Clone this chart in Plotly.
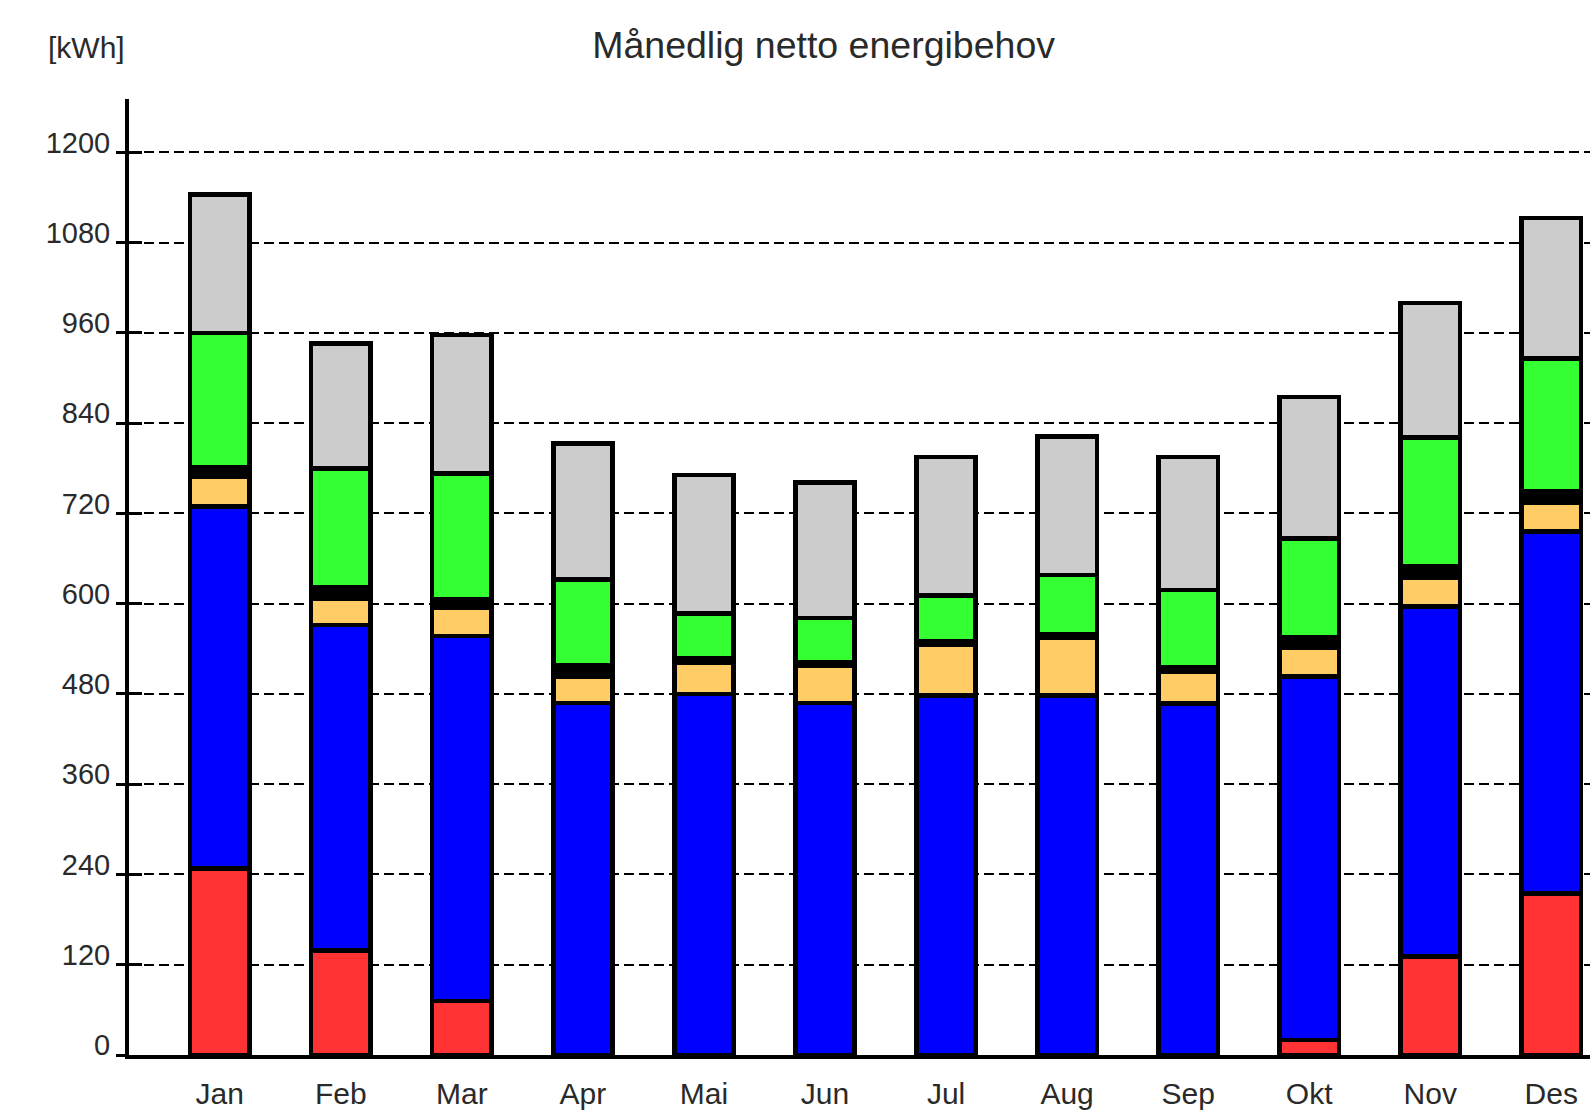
import plotly.graph_objects as go

months = ["Jan", "Feb", "Mar", "Apr", "Mai", "Jun", "Jul", "Aug", "Sep", "Okt", "Nov", "Des"]

romoppvarming = [248, 139, 72, 0, 0, 0, 0, 0, 0, 20, 131, 215]
belysning_utstyr = [481, 433, 485, 468, 480, 468, 478, 478, 467, 483, 465, 481]
varmtvann = [40, 35, 37, 35, 41, 50, 67, 77, 43, 38, 38, 38]
vifter_pumper = [12, 15, 12, 15, 7, 4, 5, 5, 5, 15, 16, 15]
ventilasjonsvarme = [179, 158, 167, 114, 59, 59, 61, 78, 103, 131, 171, 177]
kjoling = [184, 166, 184, 181, 184, 180, 184, 184, 177, 188, 179, 187]

y_ticks = [0, 120, 240, 360, 480, 600, 720, 840, 960, 1080, 1200]

series = [
    ("Romoppvarming", romoppvarming, "#FF3333"),
    ("Belysning og utstyr", belysning_utstyr, "#0000FF"),
    ("Varmtvann", varmtvann, "#FFCC66"),
    ("Vifter og pumper", vifter_pumper, "#000000"),
    ("Ventilasjonsvarme", ventilasjonsvarme, "#33FF33"),
    ("Kjøling", kjoling, "#CCCCCC"),
]

FONT = "Liberation Sans, Arial, sans-serif"
TXT = "#2a2a2a"

fig = go.Figure()
for name, vals, color in series:
    fig.add_trace(go.Bar(
        x=months, y=vals, name=name,
        marker=dict(color=color, line=dict(color="black", width=4.5)),
        hoverinfo="x+y+name",
    ))

# invisible helper trace for the overlay axis (inside tick marks)
fig.add_trace(go.Scatter(x=[months[0]], y=[0], yaxis="y2", mode="markers",
                         marker=dict(opacity=0), showlegend=False, hoverinfo="skip"))

fig.update_layout(
    barmode="stack",
    bargap=0.51,
    width=1590, height=1115,
    margin=dict(l=129, r=0, t=99, b=60, autoexpand=False),
    paper_bgcolor="white", plot_bgcolor="white",
    showlegend=False,
    font=dict(family=FONT, color=TXT),
    title=dict(text="Månedlig netto energibehov", x=0.518, xanchor="center",
               y=0.96, yanchor="middle", font=dict(size=37.5, family=FONT, color=TXT)),
    xaxis=dict(
        type="category", categoryorder="array", categoryarray=months,
        range=[-0.75, 11.32], automargin=False,
        showline=True, linecolor="black", linewidth=4,
        showgrid=False, ticks="", ticklabelstandoff=9,
        tickfont=dict(size=30, family=FONT, color=TXT),
        zeroline=False,
    ),
    yaxis=dict(
        range=[0, 1271], tickvals=y_ticks, ticktext=[str(v) for v in y_ticks],
        showline=True, linecolor="black", linewidth=4, automargin=False,
        ticks="outside", ticklen=9, tickwidth=3, tickcolor="black",
        showgrid=True, gridcolor="black", gridwidth=2, griddash="10px,5px",
        zeroline=False, ticklabelshift=-10, ticklabelstandoff=0,
        tickfont=dict(size=29, family=FONT, color=TXT),
    ),
    yaxis2=dict(
        range=[0, 1271], overlaying="y", side="left", anchor="x",
        tickvals=y_ticks, showticklabels=False, showgrid=False, showline=False,
        zeroline=False, ticks="inside", ticklen=13, tickwidth=3, tickcolor="black",
    ),
    annotations=[dict(text="[kWh]", xref="paper", yref="paper", x=-0.0568, y=1.0534,
                      xanchor="left", yanchor="middle", showarrow=False,
                      font=dict(size=30, family=FONT, color=TXT))],
)

fig.write_html("out.html")
